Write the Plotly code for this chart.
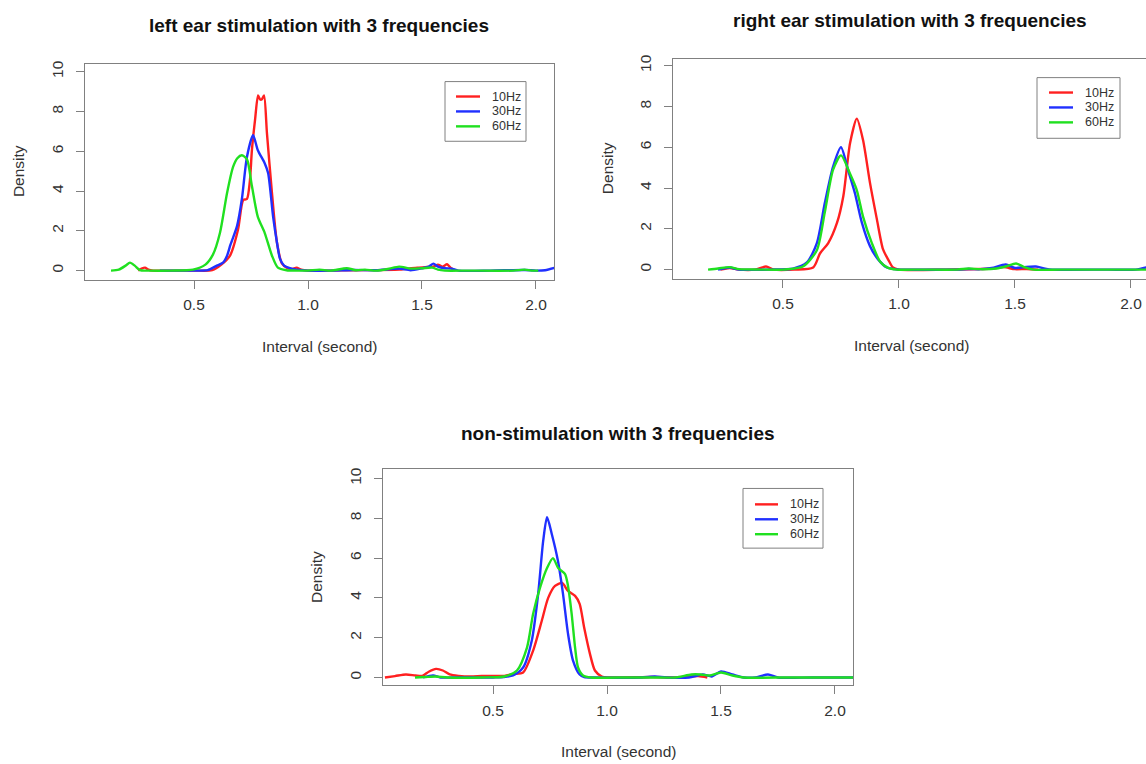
import plotly.graph_objects as go

W, H = 1146, 764

# ---------------- data ----------------
freqs = ["10Hz", "30Hz", "60Hz"]
colors = ["#ff2020", "#2030ff", "#20e020"]

# left ear stimulation
left_10_x = [0.255, 0.27, 0.285, 0.30, 0.32, 0.40, 0.50, 0.58, 0.62, 0.658, 0.693, 0.716, 0.732, 0.745, 0.754, 0.768, 0.781, 0.79, 0.797, 0.807, 0.82, 0.842, 0.864, 0.886, 0.91, 0.93, 0.95, 0.97, 1.00, 1.20, 1.40, 1.48, 1.52, 1.55, 1.57, 1.59, 1.61, 1.625, 1.645]
left_10_y = [0, 0.1, 0.15, 0.05, 0, 0, 0, 0.02, 0.3, 0.75, 2.05, 3.55, 3.6, 4.5, 6.05, 7.6, 8.8, 8.6, 8.6, 8.8, 6.9, 3.9, 1.4, 0.35, 0.12, 0.08, 0.15, 0.05, 0, 0.02, 0.05, 0.15, 0.18, 0.2, 0.3, 0.2, 0.32, 0.15, 0]
left_30_x = [0.35, 0.50, 0.56, 0.60, 0.627, 0.645, 0.66, 0.689, 0.71, 0.732, 0.759, 0.78, 0.81, 0.825, 0.847, 0.864, 0.877, 0.895, 0.92, 0.95, 1.0, 1.1, 1.2, 1.3, 1.4, 1.45, 1.5, 1.53, 1.55, 1.57, 1.60, 1.63, 1.66, 1.8, 1.95, 2.0, 2.04, 2.1]
left_30_y = [0, 0, 0.02, 0.25, 0.4, 0.75, 1.3, 2.25, 3.6, 5.7, 6.8, 6.05, 5.4, 4.9, 2.7, 1.4, 0.6, 0.25, 0.12, 0.05, 0, 0, 0.03, 0.02, 0.1, 0.02, 0.12, 0.2, 0.35, 0.2, 0.12, 0.1, 0, 0, 0.03, 0, 0.02, 0.2]
left_60_x = [0.136, 0.17, 0.20, 0.219, 0.24, 0.263, 0.30, 0.40, 0.496, 0.55, 0.583, 0.614, 0.645, 0.671, 0.69, 0.71, 0.732, 0.754, 0.78, 0.81, 0.842, 0.868, 0.906, 0.95, 1.0, 1.05, 1.10, 1.17, 1.21, 1.25, 1.30, 1.35, 1.40, 1.45, 1.50, 1.545, 1.57, 1.60, 1.70, 1.90, 1.95, 1.98, 2.01]
left_60_y = [0, 0.05, 0.25, 0.4, 0.25, 0.02, 0, 0, 0.05, 0.3, 0.8, 1.9, 3.9, 5.2, 5.65, 5.8, 5.6, 4.25, 2.7, 1.9, 0.75, 0.15, 0.02, 0, 0, 0.05, 0, 0.12, 0.02, 0.05, 0, 0.08, 0.2, 0.1, 0.12, 0.15, 0.05, 0, 0, 0, 0.05, 0, 0]

# right ear stimulation
right_10_x = [0.23, 0.27, 0.31, 0.38, 0.427, 0.46, 0.55, 0.63, 0.66, 0.695, 0.733, 0.76, 0.789, 0.818, 0.845, 0.875, 0.905, 0.931, 0.953, 0.974, 1.0, 1.2, 1.4, 1.45, 1.5, 1.55, 1.6]
right_10_y = [0, 0.08, 0, 0, 0.15, 0, 0, 0.1, 0.8, 1.3, 2.3, 3.6, 6.2, 7.4, 6.35, 4.25, 2.45, 1.0, 0.5, 0.1, 0, 0, 0.05, 0.12, 0.02, 0.03, 0]
right_30_x = [0.22, 0.27, 0.31, 0.45, 0.543, 0.603, 0.646, 0.68, 0.716, 0.75, 0.78, 0.81, 0.84, 0.875, 0.91, 0.948, 0.98, 1.0, 1.25, 1.3, 1.35, 1.4, 1.46, 1.5, 1.54, 1.59, 1.63, 1.66, 1.9, 2.02, 2.08]
right_30_y = [0, 0.1, 0, 0, 0.05, 0.35, 1.3, 3.25, 5.05, 6.0, 4.9, 3.75, 2.3, 1.15, 0.5, 0.1, 0.02, 0, 0, 0.03, 0.02, 0.08, 0.25, 0.08, 0.12, 0.15, 0.05, 0, 0, 0, 0.15]
right_60_x = [0.177, 0.22, 0.27, 0.31, 0.40, 0.50, 0.586, 0.646, 0.68, 0.716, 0.75, 0.789, 0.818, 0.845, 0.883, 0.918, 0.953, 0.99, 1.1, 1.25, 1.3, 1.35, 1.42, 1.46, 1.505, 1.54, 1.58, 1.7, 2.08]
right_60_y = [0, 0.05, 0.12, 0.02, 0, 0, 0.15, 0.95, 2.8, 4.9, 5.6, 4.7, 3.9, 2.6, 1.3, 0.4, 0.08, 0, 0, 0, 0.05, 0.02, 0.05, 0.15, 0.3, 0.12, 0, 0, 0]

# non-stimulation
non_10_x = [0.026, 0.07, 0.118, 0.16, 0.19, 0.22, 0.25, 0.28, 0.31, 0.35, 0.40, 0.45, 0.50, 0.55, 0.588, 0.632, 0.676, 0.714, 0.742, 0.772, 0.803, 0.829, 0.86, 0.88, 0.90, 0.925, 0.947, 0.977, 1.0, 1.2, 1.3, 1.4, 1.44]
non_10_y = [0, 0.07, 0.15, 0.1, 0.08, 0.3, 0.43, 0.35, 0.15, 0.08, 0.05, 0.07, 0.08, 0.08, 0.17, 0.25, 1.35, 2.85, 4.0, 4.6, 4.75, 4.35, 4.1, 3.7, 2.5, 1.2, 0.35, 0.05, 0, 0.02, 0, 0.07, 0]
non_30_x = [0.193, 0.237, 0.27, 0.35, 0.50, 0.588, 0.632, 0.67, 0.698, 0.72, 0.737, 0.758, 0.785, 0.807, 0.829, 0.851, 0.88, 0.90, 0.95, 1.15, 1.21, 1.26, 1.36, 1.42, 1.46, 1.5, 1.55, 1.6, 1.65, 1.706, 1.75, 1.9, 2.1]
non_30_y = [0, 0.1, 0, 0, 0, 0.1, 0.5, 1.85, 4.2, 6.85, 8.05, 7.2, 5.85, 4.2, 2.2, 0.85, 0.15, 0.02, 0, 0, 0.05, 0, 0, 0.15, 0.05, 0.3, 0.15, 0, 0, 0.15, 0, 0, 0]
non_60_x = [0.158, 0.2, 0.25, 0.3, 0.45, 0.55, 0.605, 0.649, 0.676, 0.706, 0.737, 0.763, 0.786, 0.816, 0.829, 0.845, 0.86, 0.873, 0.895, 0.93, 1.1, 1.2, 1.3, 1.37, 1.41, 1.45, 1.5, 1.55, 1.6, 1.8, 2.1]
non_60_y = [0, 0.02, 0.05, 0, 0, 0.05, 0.35, 1.5, 3.2, 4.5, 5.5, 6.0, 5.5, 5.2, 4.6, 3.2, 1.5, 0.5, 0.1, 0, 0, 0, 0, 0.15, 0.15, 0.1, 0.25, 0.1, 0, 0, 0]

titles = ["left ear stimulation with 3 frequencies",
          "right ear stimulation with 3 frequencies",
          "non-stimulation with 3 frequencies"]
x_title = "Interval (second)"
y_title = "Density"
x_tickvals = [0.5, 1.0, 1.5, 2.0]
x_ticktext = ["0.5", "1.0", "1.5", "2.0"]
y_tickvals = [0, 2, 4, 6, 8, 10]
y_ticktext = ["0", "2", "4", "6", "8", "10"]

panels = [
    [(left_10_x, left_10_y), (left_30_x, left_30_y), (left_60_x, left_60_y)],
    [(right_10_x, right_10_y), (right_30_x, right_30_y), (right_60_x, right_60_y)],
    [(non_10_x, non_10_y), (non_30_x, non_30_y), (non_60_x, non_60_y)],
]

# ---------------- layout geometry (pixels) ----------------
def px(x):
    return x / W

def py(y):
    return 1 - y / H

boxes = [
    dict(l=85, r=554, t=60, b=277, xr=[0.0219, 2.079], yr=[-0.45, 10.4], mirror_y=True),
    dict(l=673, r=1146, t=55, b=276, xr=[0.0259, 2.0647], yr=[-0.44, 10.34], mirror_y=False),
    dict(l=383, r=853, t=467, b=685, xr=[0.0175, 2.079], yr=[-0.4, 10.5], mirror_y=True),
]
title_pos = [(319, 22), (910, 17), (618, 432)]
xlab_pos = [(319, 344), (911, 343), (618, 751)]
ylab_pos = [(18, 168), (607, 165), (317, 576)]
# legend box (left, top, right, bottom), line start/end, text x, first row y
legend_geo = [
    dict(l=445, t=78, r=526, b=138, l0=456, l1=480, tx=490, r0=93),
    dict(l=1037, t=74, r=1120, b=135, l0=1049, l1=1073, tx=1083, r0=89),
    dict(l=743, t=487, r=823, b=547, l0=755, l1=778, tx=788, r0=503),
]
ROW = 15

fig = go.Figure()
FONT = "Liberation Sans, Arial, Helvetica, sans-serif"
AX = "#808080"
TXT = "#333333"

annotations = []
shapes = []
for i, (series, box) in enumerate(zip(panels, boxes)):
    xa = "x" if i == 0 else f"x{i+1}"
    ya = "y" if i == 0 else f"y{i+1}"
    for (xs, ys), name, c in zip(series, freqs, colors):
        fig.add_trace(go.Scatter(
            x=xs, y=ys, mode="lines", name=name, showlegend=False,
            line=dict(color=c, width=2.4, shape="spline", smoothing=0.7),
            xaxis=xa, yaxis=ya, hoverinfo="skip",
        ))
    xkey = "xaxis" if i == 0 else f"xaxis{i+1}"
    ykey = "yaxis" if i == 0 else f"yaxis{i+1}"
    fig.layout[xkey] = dict(
        domain=[px(box["l"]), px(box["r"])], range=box["xr"], anchor=ya,
        tickvals=x_tickvals, ticktext=x_ticktext, ticks="outside", ticklen=8,
        tickcolor=AX, showline=True, linecolor=AX, linewidth=1, mirror=True,
        showgrid=False, zeroline=False, ticklabelstandoff=3,
        tickfont=dict(family=FONT, size=15.5, color=TXT),
    )
    fig.layout[ykey] = dict(
        domain=[py(box["b"]), py(box["t"])], range=box["yr"], anchor=xa,
        tickvals=y_tickvals, ticktext=y_ticktext, ticks="outside", ticklen=8,
        tickcolor=AX, showline=True, linecolor=AX, linewidth=1,
        mirror=box["mirror_y"], showgrid=False, zeroline=False,
        tickangle=-90, ticklabelstandoff=7,
        tickfont=dict(family=FONT, size=15.5, color=TXT),
    )
    # legend drawn R-style
    g = legend_geo[i]
    shapes.append(dict(type="rect", xref="paper", yref="paper",
                       x0=px(g["l"]), x1=px(g["r"]), y0=py(g["b"]), y1=py(g["t"]),
                       line=dict(color=AX, width=1), fillcolor="white", layer="above"))
    for k, (name, c) in enumerate(zip(freqs, colors)):
        ry = g["r0"] + k * ROW
        shapes.append(dict(type="line", xref="paper", yref="paper",
                           x0=px(g["l0"]), x1=px(g["l1"]), y0=py(ry), y1=py(ry),
                           line=dict(color=c, width=2.4), layer="above"))
        annotations.append(dict(text=name, x=px(g["tx"]), y=py(ry),
                                xref="paper", yref="paper", showarrow=False,
                                xanchor="left", yanchor="middle",
                                font=dict(family=FONT, size=12.5, color=TXT)))
    tx, ty = title_pos[i]
    annotations.append(dict(text=f"<b>{titles[i]}</b>", x=px(tx), y=py(ty),
                            xref="paper", yref="paper", showarrow=False,
                            xanchor="center", yanchor="middle",
                            font=dict(family=FONT, size=19, color="#111111")))
    ax_, ay_ = xlab_pos[i]
    annotations.append(dict(text=x_title, x=px(ax_), y=py(ay_),
                            xref="paper", yref="paper", showarrow=False,
                            xanchor="center", yanchor="middle",
                            font=dict(family=FONT, size=15.5, color=TXT)))
    yx, yy = ylab_pos[i]
    annotations.append(dict(text=y_title, x=px(yx), y=py(yy), textangle=-90,
                            xref="paper", yref="paper", showarrow=False,
                            xanchor="center", yanchor="middle",
                            font=dict(family=FONT, size=15.5, color=TXT)))

fig.update_layout(
    width=W, height=H, margin=dict(l=0, r=0, t=0, b=0),
    paper_bgcolor="white", plot_bgcolor="white",
    annotations=annotations, shapes=shapes, showlegend=False,
)

fig.write_html("out.html", config={"displayModeBar": False},
               post_script="document.body.style.margin='0px';document.body.style.padding='0px';")
